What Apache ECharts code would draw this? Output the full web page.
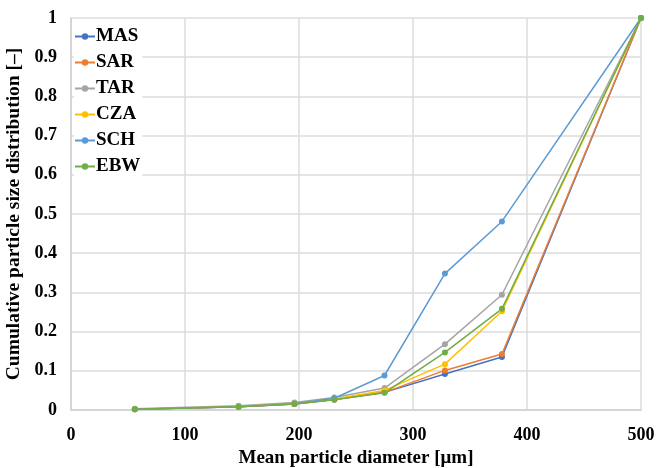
<!DOCTYPE html>
<html>
<head>
<meta charset="utf-8">
<script src="https://cdn.jsdelivr.net/npm/echarts@6/dist/echarts.min.js"></script>
<style>html,body{margin:0;padding:0;background:#fff}#c{width:657px;height:468px}</style>
</head>
<body>
<div id="c"></div>
<script>
const diameters = [56, 147, 196, 231, 275, 328, 378, 500];
const MAS = [0.002, 0.008, 0.015, 0.027, 0.045, 0.092, 0.135, 1];
const SAR = [0.002, 0.008, 0.015, 0.027, 0.045, 0.101, 0.143, 1];
const TAR = [0.003, 0.011, 0.019, 0.032, 0.056, 0.168, 0.294, 1];
const CZA = [0.002, 0.009, 0.016, 0.028, 0.050, 0.117, 0.252, 1];
const SCH = [0.002, 0.008, 0.016, 0.030, 0.088, 0.348, 0.481, 1];
const EBW = [0.002, 0.008, 0.015, 0.026, 0.044, 0.147, 0.258, 1];
const seriesNames = ['MAS', 'SAR', 'TAR', 'CZA', 'SCH', 'EBW'];
const seriesData = [MAS, SAR, TAR, CZA, SCH, EBW];
const colors = ['#4472C4', '#ED7D31', '#A5A5A5', '#FFC000', '#5B9BD5', '#70AD47'];
const xTicks = [0, 100, 200, 300, 400, 500];
const yTicks = [0, 0.1, 0.2, 0.3, 0.4, 0.5, 0.6, 0.7, 0.8, 0.9, 1];

const font = 'Liberation Serif, Times New Roman, serif';
const chart = echarts.init(document.getElementById('c'));
chart.setOption({
  animation: false,
  color: colors,
  grid: { left: 71, right: 16, top: 18, bottom: 58, containLabel: false, outerBoundsMode: 'none' },
  legend: {
    orient: 'vertical', left: 74, top: 24,
    itemWidth: 20, itemHeight: 8, itemGap: 7,
    backgroundColor: '#fff', padding: [3, 2, 3, 0],
    textStyle: { fontFamily: font, fontWeight: 'bold', fontSize: 19, color: '#000', padding: [0, 0, 0, -4] },
    data: seriesNames
  },
  xAxis: {
    type: 'value', min: 0, max: 500, interval: 100,
    name: 'Mean particle diameter [μm]', nameLocation: 'middle', nameGap: 39,
    nameTextStyle: { fontFamily: font, fontWeight: 'bold', fontSize: 19, color: '#000', verticalAlign: 'top' },
    axisLine: { show: true, lineStyle: { color: '#d0d0d0', width: 1.5 } },
    axisTick: { show: false },
    axisLabel: { fontFamily: font, fontWeight: 'bold', fontSize: 18, color: '#000', margin: 16,
      formatter: v => xTicks.includes(v) ? String(v) : '' },
    splitLine: { show: true, lineStyle: { color: '#dcdcdc', width: 1.5 } }
  },
  yAxis: {
    type: 'value', min: 0, max: 1, interval: 0.1,
    name: 'Cumulative particle size distribution [–]', nameLocation: 'middle', nameGap: 43,
    nameTextStyle: { fontFamily: font, fontWeight: 'bold', fontSize: 19.5, color: '#000' },
    axisLine: { show: true, lineStyle: { color: '#d0d0d0', width: 1.5 } },
    axisTick: { show: false },
    axisLabel: { fontFamily: font, fontWeight: 'bold', fontSize: 18, color: '#000', margin: 14,
      formatter: v => { const t = yTicks.find(k => Math.abs(k - v) < 1e-9); return t === undefined ? '' : String(+t.toFixed(1)); } },
    splitLine: { show: true, lineStyle: { color: '#dcdcdc', width: 1.5 } }
  },
  series: seriesNames.map((n, i) => ({
    name: n, type: 'line',
    data: diameters.map((d, j) => [d, seriesData[i][j]]),
    symbol: 'circle', symbolSize: 6,
    lineStyle: { width: 1.5, color: colors[i] },
    itemStyle: { color: colors[i] }
  }))
});
</script>
</body>
</html>
